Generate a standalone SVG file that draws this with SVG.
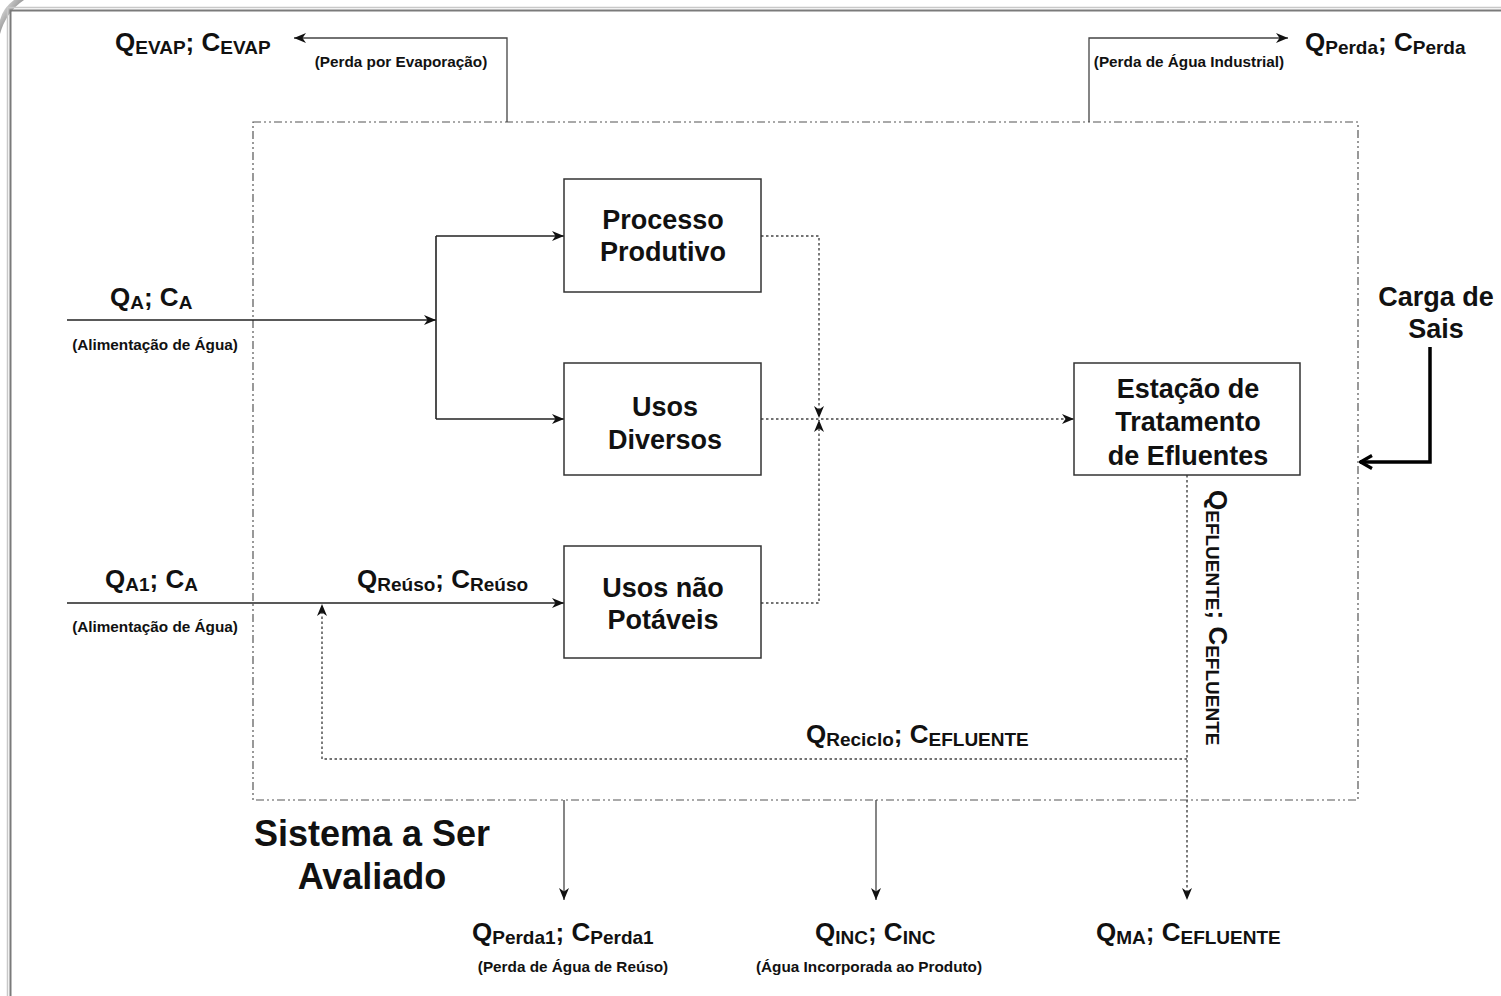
<svg xmlns="http://www.w3.org/2000/svg" width="1501" height="996" viewBox="0 0 1501 996">
<style>
text{font-family:"Liberation Sans",Arial,sans-serif;font-weight:bold;fill:#111}
.q{font-size:26px}
.s{font-size:19px}
.sm{font-size:15.3px}
.nt{font-size:27px;text-anchor:middle}
.box{fill:#fff;stroke:#333;stroke-width:1.5}
.solid{fill:none;stroke:#222;stroke-width:1.6}
.thin{fill:none;stroke:#444;stroke-width:1.3}
.dot{fill:none;stroke:#444;stroke-width:1.4;stroke-dasharray:2.5 2.5}
.sys{fill:none;stroke:#555;stroke-width:1.2;stroke-dasharray:8 3 2 3 2 3}
</style>
<defs>
<marker id="a" viewBox="0 0 12 10" refX="12" refY="5" markerWidth="12" markerHeight="10" orient="auto" markerUnits="userSpaceOnUse"><path d="M0,0 L12,5 L0,10 L3.5,5z" fill="#111"/></marker>
<marker id="ao" viewBox="0 0 14 16" refX="13" refY="8" markerWidth="14" markerHeight="16" orient="auto" markerUnits="userSpaceOnUse"><path d="M1,1.5 L12.5,8 L1,14.5" fill="none" stroke="#000" stroke-width="3.2"/></marker>
<linearGradient id="curl" x1="0" y1="0" x2="1" y2="1"><stop offset="0" stop-color="#f2f2f2"/><stop offset="0.5" stop-color="#9a9a9a"/><stop offset="1" stop-color="#e0e0e0"/></linearGradient>
</defs>
<rect width="1501" height="996" fill="#fff"/>
<g id="frame">
<path d="M0,34 Q6,12 24,0 L14,0 Q3,8 0,20Z" fill="url(#curl)"/>
<path d="M7.5,996 V7.5 H1501" fill="none" stroke="#c8c8c8" stroke-width="1.5"/>
<path d="M10.5,996 V10.5 H1501" fill="none" stroke="#7a7a7a" stroke-width="2"/>
</g>
<g id="system">
<rect class="sys" x="253" y="122" width="1105" height="678"/>
<text x="372" y="846" style="font-size:36px;text-anchor:middle">Sistema a Ser</text>
<text x="372" y="889" style="font-size:36px;text-anchor:middle">Avaliado</text>
</g>
<g id="connectors">
<path class="thin" d="M507,122 V38 H294" marker-end="url(#a)"/>
<path class="thin" d="M1089,122 V38 H1288" marker-end="url(#a)"/>
<path class="solid" d="M67,320 H436" marker-end="url(#a)"/>
<path class="solid" d="M436,236 V419"/>
<path class="solid" d="M436,236 H564" marker-end="url(#a)"/>
<path class="solid" d="M436,419 H564" marker-end="url(#a)"/>
<path class="solid" d="M67,603 H564" marker-end="url(#a)"/>
<path class="dot" d="M761,236 H819 V418" marker-end="url(#a)"/>
<path class="dot" d="M761,603 H819 V420" marker-end="url(#a)"/>
<path class="dot" d="M761,419 H1074" marker-end="url(#a)"/>
<path class="dot" d="M1187,475 V900" marker-end="url(#a)"/>
<path class="dot" d="M1187,759 H322 V604" marker-end="url(#a)"/>
<path class="thin" d="M564,800 V900" marker-end="url(#a)"/>
<path class="thin" d="M876,800 V900" marker-end="url(#a)"/>
<path d="M1430,347 V462 H1360" fill="none" stroke="#000" stroke-width="3.5" marker-end="url(#ao)"/>
</g>
<g id="processo">
<rect class="box" x="564" y="179" width="197" height="113"/>
<text class="nt" x="663" y="229">Processo</text>
<text class="nt" x="663" y="261">Produtivo</text>
</g>
<g id="usos-diversos">
<rect class="box" x="564" y="363" width="197" height="112"/>
<text class="nt" x="665" y="416">Usos</text>
<text class="nt" x="665" y="449">Diversos</text>
</g>
<g id="usos-nao-potaveis">
<rect class="box" x="564" y="546" width="197" height="112"/>
<text class="nt" x="663" y="597">Usos não</text>
<text class="nt" x="663" y="629">Potáveis</text>
</g>
<g id="ete">
<rect class="box" x="1074" y="363" width="226" height="112"/>
<text class="nt" x="1188" y="398">Estação de</text>
<text class="nt" x="1188" y="431">Tratamento</text>
<text class="nt" x="1188" y="465">de Efluentes</text>
</g>
<g id="carga">
<text class="nt" x="1436" y="306">Carga de</text>
<text class="nt" x="1436" y="338">Sais</text>
</g>
<g id="labels">
<text class="q" x="115" y="51">Q<tspan class="s" dy="3">EVAP</tspan><tspan dy="-3">; C</tspan><tspan class="s" dy="3">EVAP</tspan></text>
<text class="sm" x="401" y="67" text-anchor="middle">(Perda por Evaporação)</text>
<text class="sm" x="1189" y="67" text-anchor="middle">(Perda de Água Industrial)</text>
<text class="q" x="1305" y="51">Q<tspan class="s" dy="3">Perda</tspan><tspan dy="-3">; C</tspan><tspan class="s" dy="3">Perda</tspan></text>
<text class="q" x="110" y="306">Q<tspan class="s" dy="3">A</tspan><tspan dy="-3">; C</tspan><tspan class="s" dy="3">A</tspan></text>
<text class="sm" x="155" y="350" text-anchor="middle">(Alimentação de Água)</text>
<text class="q" x="105" y="588">Q<tspan class="s" dy="3">A1</tspan><tspan dy="-3">; C</tspan><tspan class="s" dy="3">A</tspan></text>
<text class="sm" x="155" y="632" text-anchor="middle">(Alimentação de Água)</text>
<text class="q" x="357" y="588">Q<tspan class="s" dy="3">Reúso</tspan><tspan dy="-3">; C</tspan><tspan class="s" dy="3">Reúso</tspan></text>
<text class="q" x="806" y="743">Q<tspan class="s" dy="3">Reciclo</tspan><tspan dy="-3">; C</tspan><tspan class="s" dy="3">EFLUENTE</tspan></text>
<text class="q" transform="translate(1209,490) rotate(90)">Q<tspan class="s" dy="3">EFLUENTE</tspan><tspan dy="-3">; C</tspan><tspan class="s" dy="3">EFLUENTE</tspan></text>
<text class="q" x="472" y="941">Q<tspan class="s" dy="3">Perda1</tspan><tspan dy="-3">; C</tspan><tspan class="s" dy="3">Perda1</tspan></text>
<text class="sm" x="573" y="972" text-anchor="middle">(Perda de Água de Reúso)</text>
<text class="q" x="815" y="941">Q<tspan class="s" dy="3">INC</tspan><tspan dy="-3">; C</tspan><tspan class="s" dy="3">INC</tspan></text>
<text class="sm" x="869" y="972" text-anchor="middle">(Água Incorporada ao Produto)</text>
<text class="q" x="1096" y="941">Q<tspan class="s" dy="3">MA</tspan><tspan dy="-3">; C</tspan><tspan class="s" dy="3">EFLUENTE</tspan></text>
</g>
</svg>
